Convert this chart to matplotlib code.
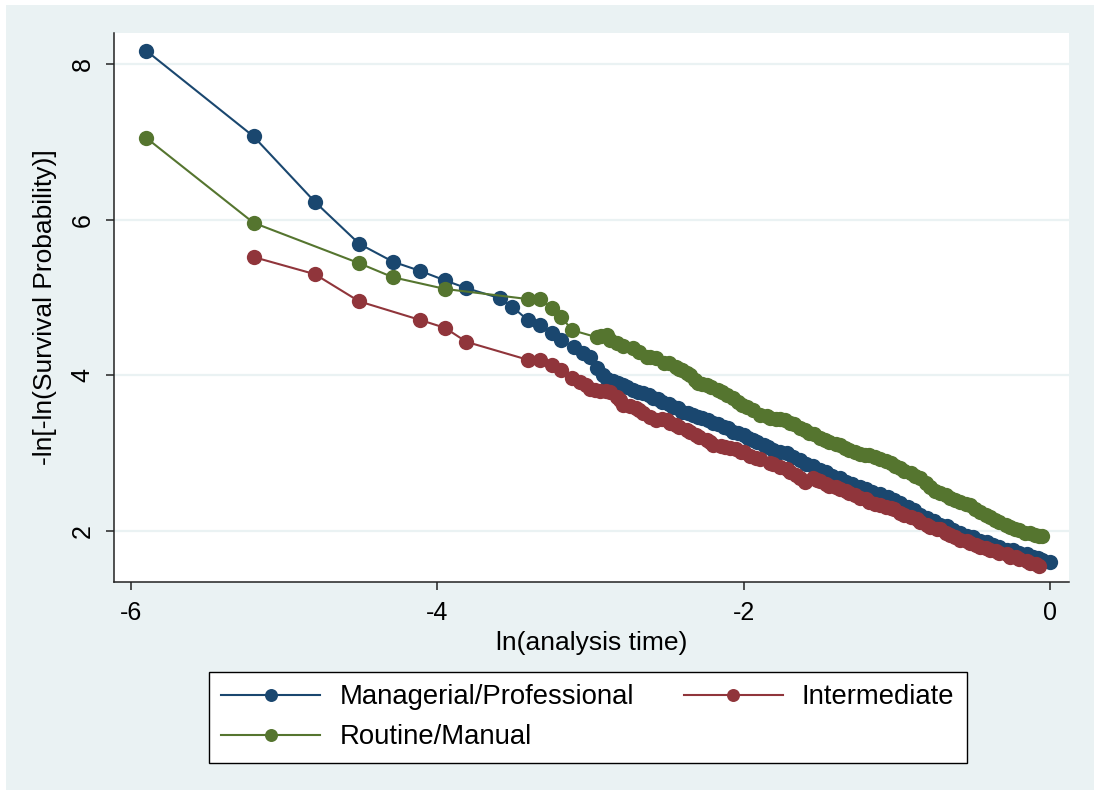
import matplotlib

matplotlib.use("Agg")
import matplotlib.pyplot as plt
from matplotlib.patches import Rectangle

plt.rcParams["font.family"] = ["Liberation Sans", "DejaVu Sans"]
plt.rcParams["axes.unicode_minus"] = False

# Stata s2color palette
NAVY = "#1a476f"
MAROON = "#90353b"
GREEN = "#55752f"
BG = "#eaf2f3"

labels = ["Managerial/Professional", "Intermediate", "Routine/Manual"]

# ln(analysis time) and -ln[-ln(S)]
mgr_x = [-5.90, -5.20, -4.80, -4.51, -4.29, -4.11, -3.95, -3.81, -3.59, -3.51,
         -3.41, -3.33, -3.25, -3.19, -3.11, -3.05, -3.00, -2.96, -2.92, -2.89,
         -2.85, -2.82, -2.79, -2.76, -2.72, -2.69, -2.66, -2.62, -2.59, -2.56,
         -2.53, -2.49, -2.46, -2.43, -2.40, -2.36, -2.33, -2.30, -2.27, -2.23,
         -2.20, -2.17, -2.13, -2.10, -2.07, -2.04, -2.00, -1.97, -1.94, -1.91,
         -1.87, -1.84, -1.81, -1.76, -1.72, -1.68, -1.63, -1.59, -1.55, -1.50,
         -1.46, -1.42, -1.37, -1.33, -1.29, -1.24, -1.20, -1.16, -1.11, -1.06,
         -1.02, -0.98, -0.93, -0.89, -0.85, -0.80, -0.76, -0.72, -0.67, -0.63,
         -0.59, -0.54, -0.50, -0.46, -0.41, -0.37, -0.33, -0.28, -0.24, -0.20,
         -0.15, -0.11, -0.08, -0.05, 0.00]
mgr_y = [8.17, 7.07, 6.23, 5.69, 5.46, 5.34, 5.22, 5.12, 4.99, 4.88,
         4.71, 4.65, 4.54, 4.45, 4.36, 4.29, 4.24, 4.09, 4.00, 3.95,
         3.93, 3.90, 3.88, 3.85, 3.81, 3.79, 3.77, 3.75, 3.71, 3.70,
         3.66, 3.63, 3.59, 3.58, 3.53, 3.52, 3.49, 3.47, 3.45, 3.43,
         3.39, 3.38, 3.34, 3.32, 3.27, 3.26, 3.23, 3.20, 3.17, 3.14,
         3.10, 3.08, 3.04, 3.02, 3.00, 2.95, 2.91, 2.86, 2.83, 2.78,
         2.76, 2.70, 2.68, 2.63, 2.61, 2.56, 2.54, 2.50, 2.48, 2.44,
         2.40, 2.36, 2.31, 2.27, 2.21, 2.17, 2.13, 2.08, 2.06, 2.01,
         1.98, 1.93, 1.92, 1.87, 1.86, 1.82, 1.80, 1.76, 1.75, 1.72,
         1.70, 1.67, 1.65, 1.63, 1.60]

int_x = [-5.20, -4.80, -4.51, -4.11, -3.95, -3.81, -3.41, -3.33, -3.25, -3.19,
         -3.12, -3.07, -3.03, -3.00, -2.97, -2.94, -2.90, -2.87, -2.83, -2.81,
         -2.79, -2.74, -2.70, -2.68, -2.66, -2.61, -2.57, -2.53, -2.50, -2.48,
         -2.44, -2.42, -2.37, -2.35, -2.31, -2.29, -2.24, -2.22, -2.20, -2.15,
         -2.12, -2.09, -2.05, -2.02, -2.00, -1.96, -1.92, -1.89, -1.83, -1.81,
         -1.76, -1.72, -1.70, -1.66, -1.63, -1.60, -1.55, -1.52, -1.50, -1.46,
         -1.44, -1.40, -1.37, -1.33, -1.31, -1.27, -1.24, -1.20, -1.18, -1.14,
         -1.11, -1.07, -1.04, -1.02, -0.98, -0.95, -0.91, -0.87, -0.85, -0.80,
         -0.78, -0.74, -0.72, -0.68, -0.65, -0.62, -0.59, -0.54, -0.52, -0.48,
         -0.46, -0.42, -0.39, -0.35, -0.33, -0.28, -0.26, -0.22, -0.20, -0.15,
         -0.13, -0.09, -0.07]
int_y = [5.52, 5.30, 4.95, 4.71, 4.61, 4.43, 4.20, 4.20, 4.13, 4.07,
         3.97, 3.91, 3.87, 3.83, 3.81, 3.80, 3.80, 3.79, 3.72, 3.68,
         3.62, 3.60, 3.58, 3.55, 3.52, 3.46, 3.43, 3.44, 3.42, 3.39,
         3.36, 3.34, 3.30, 3.27, 3.23, 3.21, 3.17, 3.14, 3.11, 3.09,
         3.08, 3.07, 3.05, 3.02, 3.01, 2.96, 2.94, 2.93, 2.87, 2.86,
         2.82, 2.80, 2.76, 2.72, 2.68, 2.63, 2.68, 2.65, 2.64, 2.60,
         2.58, 2.56, 2.54, 2.51, 2.49, 2.46, 2.43, 2.41, 2.37, 2.35,
         2.34, 2.31, 2.29, 2.28, 2.23, 2.21, 2.18, 2.15, 2.11, 2.08,
         2.05, 2.03, 2.02, 1.98, 1.95, 1.92, 1.89, 1.87, 1.85, 1.82,
         1.80, 1.78, 1.76, 1.74, 1.72, 1.70, 1.67, 1.66, 1.64, 1.61,
         1.59, 1.57, 1.55]

rm_x = [-5.90, -5.20, -4.51, -4.29, -3.95, -3.41, -3.33, -3.25, -3.19, -3.12,
        -2.96, -2.93, -2.89, -2.87, -2.83, -2.79, -2.72, -2.68, -2.63, -2.61,
        -2.57, -2.52, -2.49, -2.44, -2.42, -2.40, -2.37, -2.35, -2.32, -2.30,
        -2.27, -2.24, -2.21, -2.17, -2.14, -2.11, -2.07, -2.04, -2.01, -1.98,
        -1.94, -1.89, -1.85, -1.83, -1.79, -1.76, -1.73, -1.70, -1.67, -1.63,
        -1.60, -1.57, -1.54, -1.50, -1.47, -1.44, -1.40, -1.37, -1.34, -1.31,
        -1.27, -1.24, -1.21, -1.18, -1.14, -1.11, -1.07, -1.04, -1.01, -0.98,
        -0.95, -0.91, -0.88, -0.85, -0.81, -0.78, -0.75, -0.72, -0.68, -0.65,
        -0.62, -0.59, -0.55, -0.52, -0.49, -0.46, -0.42, -0.39, -0.36, -0.33,
        -0.29, -0.26, -0.23, -0.20, -0.16, -0.13, -0.10, -0.07, -0.05]
rm_y = [7.05, 5.96, 5.44, 5.26, 5.11, 4.98, 4.98, 4.86, 4.75, 4.58,
        4.49, 4.50, 4.52, 4.45, 4.41, 4.38, 4.35, 4.30, 4.24, 4.24,
        4.22, 4.16, 4.16, 4.11, 4.08, 4.07, 4.03, 4.00, 3.94, 3.90,
        3.89, 3.88, 3.85, 3.81, 3.78, 3.75, 3.71, 3.66, 3.62, 3.59,
        3.55, 3.49, 3.48, 3.45, 3.44, 3.44, 3.42, 3.39, 3.37, 3.32,
        3.30, 3.26, 3.24, 3.19, 3.17, 3.14, 3.12, 3.10, 3.07, 3.04,
        3.02, 2.99, 2.98, 2.97, 2.95, 2.93, 2.90, 2.87, 2.84, 2.81,
        2.77, 2.74, 2.71, 2.68, 2.62, 2.56, 2.52, 2.49, 2.46, 2.42,
        2.40, 2.37, 2.35, 2.33, 2.28, 2.24, 2.21, 2.18, 2.14, 2.12,
        2.08, 2.05, 2.02, 2.01, 1.98, 1.97, 1.95, 1.94, 1.94]

xticks = [-6, -4, -2, 0]
yticks = [2, 4, 6, 8]

fig = plt.figure(figsize=(10.94, 7.96), dpi=100, facecolor="white")
fig.patches.append(Rectangle((0.0055, 0.0075), 0.9945, 0.9862,
                             transform=fig.transFigure, fc=BG, ec="none",
                             zorder=-10))
ax = fig.add_axes([0.1042, 0.2688, 0.8729, 0.6897])
ax.set_facecolor("white")

style = dict(marker="o", markersize=11, lw=1.5, markeredgewidth=0)
h_mgr, = ax.plot(mgr_x, mgr_y, color=NAVY, label=labels[0], **style)
h_int, = ax.plot(int_x, int_y, color=MAROON, label=labels[1], **style)
h_rm, = ax.plot(rm_x, rm_y, color=GREEN, label=labels[2], **style)

ax.set_xlim(-6.111, 0.124)
ax.set_ylim(1.344, 8.398)
ax.set_xticks(xticks)
ax.set_yticks(yticks)
ax.grid(axis="y", color=BG, lw=1.6)
ax.set_axisbelow(True)

for s in ["top", "right"]:
    ax.spines[s].set_visible(False)
for s in ["left", "bottom"]:
    ax.spines[s].set_color("#222")
    ax.spines[s].set_linewidth(1.1)
ax.tick_params(direction="out", length=6, width=1.1, color="#222",
               labelsize=18, pad=8)
for t in ax.get_yticklabels():
    t.set_rotation(90)
    t.set_va("center")

ax.set_xlabel("ln(analysis time)", fontsize=19, labelpad=4)
ax.set_ylabel("-ln[-ln(Survival Probability)]", fontsize=19, labelpad=10)

# column-first fill: Managerial / Routine in col 1, Intermediate in col 2
leg = fig.legend([h_mgr, h_rm, h_int], [labels[0], labels[2], labels[1]],
                 loc="upper left", bbox_to_anchor=(209 / 1094, 1 - 672 / 796),
                 ncol=2, fontsize=19.8, frameon=True, fancybox=False,
                 edgecolor="black", framealpha=1, handlelength=3.6,
                 handletextpad=0.7, columnspacing=1.8, borderpad=0.45,
                 labelspacing=0.5, borderaxespad=0, markerscale=0.85)
leg.get_frame().set_linewidth(1.0)

fig.savefig("out.png", dpi=100)
